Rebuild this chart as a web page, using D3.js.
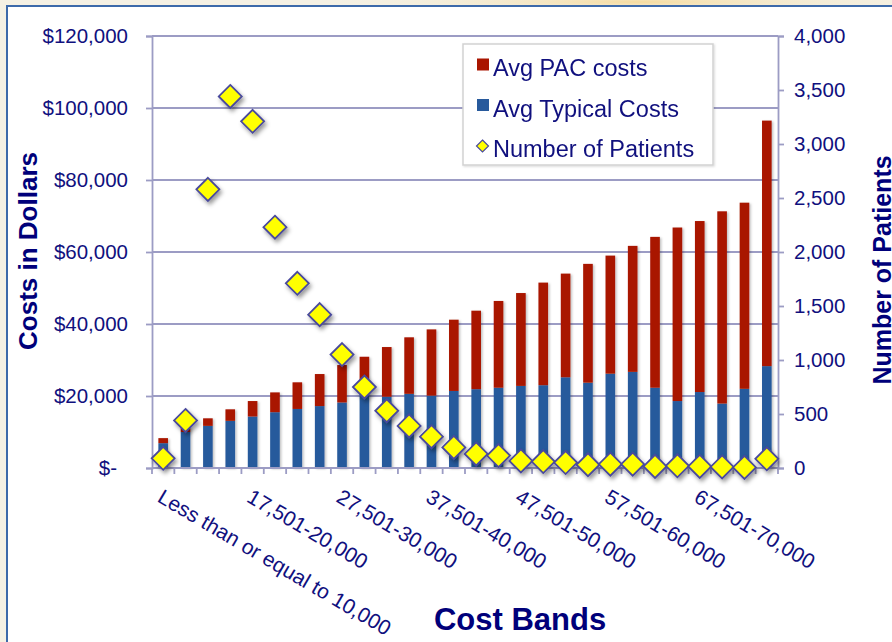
<!DOCTYPE html>
<html>
<head>
<meta charset="utf-8">
<script src="https://cdn.jsdelivr.net/npm/d3@7"></script>
<style>
  html, body { margin: 0; padding: 0; background: #f5f1e4; }
  svg { display: block; font-family: "Liberation Sans", Arial, Helvetica, sans-serif; }
</style>
</head>
<body>
<svg id="chart" width="892" height="642"></svg>
<script>
const categories = ["Less than or equal to 10,000","10,001-12,500","12,501-15,000","15,001-17,500","17,501-20,000","20,001-22,500","22,501-25,000","25,001-27,500","27,501-30,000","30,001-32,500","32,501-35,000","35,001-37,500","37,501-40,000","40,001-42,500","42,501-45,000","45,001-47,500","47,501-50,000","50,001-52,500","52,501-55,000","55,001-57,500","57,501-60,000","60,001-62,500","62,501-65,000","65,001-67,500","67,501-70,000","70,001-72,500","72,501-75,000","Greater than 75,000"];
const typicalCosts = [6900,10000,11700,13100,14300,15500,16400,17200,18200,21000,19800,20600,20100,21400,21900,22300,22800,23000,25200,23700,26200,26700,22300,18600,21100,17900,22000,28300];
const pacCosts = [1400,1500,2100,3200,4300,5500,7400,8900,10400,9900,13800,15700,18400,19800,21800,24100,25800,28500,28800,33000,32800,35000,41900,48200,47500,53400,51700,68200];
const patients = [90,440,2580,3440,3210,2230,1710,1420,1050,750,530,390,290,190,130,115,65,60,50,30,35,35,15,20,15,10,5,85];
const costTicks = [0,20000,40000,60000,80000,100000,120000];
const costTickLabels = ["$-","$20,000","$40,000","$60,000","$80,000","$100,000","$120,000"];
const patientTicks = [0,500,1000,1500,2000,2500,3000,3500,4000];
const shownLabelIdx = [0,4,8,12,16,20,24];
const seriesNames = ["Avg PAC costs","Avg Typical Costs","Number of Patients"];

const svg = d3.select("#chart");
const W = 892, H = 642;
const mLeft = 152, mRight = 778, mTop = 36, mBottom = 468;
const axisColor = "#9c9cc4";
const textColor = "#10107e";
const titleColor = "#00007a";
const red = "#a91500", blue = "#285a9c";

const defs = svg.append("defs");
const glow = defs.append("radialGradient").attr("id","glow").attr("cx","0.5").attr("cy","0.5").attr("r","0.5");
glow.append("stop").attr("offset","0%").attr("stop-color","#f6dca0");
glow.append("stop").attr("offset","100%").attr("stop-color","#f5f1e4").attr("stop-opacity",0);
const sh = defs.append("filter").attr("id","shadow").attr("x","-50%").attr("y","-50%").attr("width","200%").attr("height","200%");
sh.append("feDropShadow").attr("dx",2).attr("dy",3).attr("stdDeviation",2).attr("flood-color","#000").attr("flood-opacity",0.4);
const bsh = defs.append("filter").attr("id","bshadow").attr("x","-50%").attr("y","-10%").attr("width","200%").attr("height","120%");
bsh.append("feDropShadow").attr("dx",1.5).attr("dy",1).attr("stdDeviation",1).attr("flood-color","#000").attr("flood-opacity",0.25);
const lsh = defs.append("filter").attr("id","lshadow").attr("x","-10%").attr("y","-10%").attr("width","120%").attr("height","120%");
lsh.append("feDropShadow").attr("dx",1).attr("dy",1).attr("stdDeviation",1).attr("flood-color","#000").attr("flood-opacity",0.15);

// background
svg.append("rect").attr("width",W).attr("height",H).attr("fill","#f5f1e4");
svg.append("ellipse").attr("cx",640).attr("cy",2).attr("rx",330).attr("ry",14).attr("fill","url(#glow)");
svg.append("rect").attr("x",7).attr("y",6).attr("width",W+20).attr("height",H+20)
  .attr("fill","#fff").attr("stroke","#3d6aaa").attr("stroke-width",2);

const x = d3.scaleBand().domain(categories).range([mLeft,mRight]).paddingInner(0).paddingOuter(0);
const yL = d3.scaleLinear().domain([0,120000]).range([mBottom,mTop]);
const yR = d3.scaleLinear().domain([0,4000]).range([mBottom,mTop]);
const bw = x.bandwidth()*0.43;

// gridlines
svg.append("g").selectAll("line").data(costTicks.filter(d=>d>0)).join("line")
  .attr("x1",mLeft).attr("x2",mRight).attr("y1",d=>yL(d)).attr("y2",d=>yL(d))
  .attr("stroke",axisColor).attr("stroke-width",1.8);

// bars
const data = categories.map((c,i)=>({c, t:typicalCosts[i], p:pacCosts[i], n:patients[i]}));
const gb = svg.append("g").attr("filter","url(#bshadow)");
gb.selectAll("rect.t").data(data).join("rect").attr("class","t")
  .attr("x",d=>x(d.c)+(x.bandwidth()-bw)/2).attr("width",bw)
  .attr("y",d=>yL(d.t)).attr("height",d=>yL(0)-yL(d.t)).attr("fill",blue);
gb.selectAll("rect.p").data(data).join("rect").attr("class","p")
  .attr("x",d=>x(d.c)+(x.bandwidth()-bw)/2).attr("width",bw)
  .attr("y",d=>yL(d.t+d.p)).attr("height",d=>yL(d.t)-yL(d.t+d.p)).attr("fill",red);

// left axis
const axL = svg.append("g").attr("transform",`translate(${mLeft},0)`)
  .call(d3.axisLeft(yL).tickValues(costTicks).tickSize(6).tickPadding(18)
    .tickFormat((d,i)=>costTickLabels[i]));
axL.select(".domain").attr("stroke",axisColor).attr("stroke-width",1.8);
axL.selectAll(".tick line").attr("stroke",axisColor).attr("stroke-width",1.8);
axL.selectAll(".tick text").attr("fill",textColor).attr("font-size",20.5).attr("font-family",null)
  .attr("dx",d=>d===0?-11:0);

// right axis
const axR = svg.append("g").attr("transform",`translate(${mRight},0)`)
  .call(d3.axisRight(yR).tickValues(patientTicks).tickSize(6).tickPadding(10).tickFormat(d3.format(",")));
axR.select(".domain").attr("stroke",axisColor).attr("stroke-width",1.8);
axR.selectAll(".tick line").attr("stroke",axisColor).attr("stroke-width",1.8);
axR.selectAll(".tick text").attr("fill",textColor).attr("font-size",20.5).attr("font-family",null);

// bottom axis
svg.append("line").attr("x1",mLeft).attr("x2",mRight).attr("y1",mBottom).attr("y2",mBottom)
  .attr("stroke",axisColor).attr("stroke-width",1.8);
const bounds = categories.map(c=>x(c)).concat([x(categories[categories.length-1])+x.bandwidth()]);
svg.append("g").selectAll("line").data(bounds).join("line")
  .attr("x1",d=>d).attr("x2",d=>d).attr("y1",mBottom).attr("y2",mBottom+6)
  .attr("stroke",axisColor).attr("stroke-width",1.8);
svg.append("g").selectAll("text").data(shownLabelIdx).join("text")
  .attr("transform",i=>`translate(${x(categories[i])+x.bandwidth()/2-7},${mBottom+33}) rotate(30.5)`)
  .attr("fill",textColor).attr("font-size",21).text(i=>categories[i]);

// diamonds
svg.append("g").attr("filter","url(#shadow)").selectAll("path").data(data).join("path")
  .attr("transform",d=>`translate(${x(d.c)+x.bandwidth()/2},${yR(d.n)})`)
  .attr("d",()=>{const s=11.5;return `M0,${-s}L${s},0L0,${s}L${-s},0Z`;})
  .attr("fill","#ffff00").attr("stroke","#4a4a9c").attr("stroke-width",1.8);

// axis titles
svg.append("text").attr("transform","translate(37,251) rotate(-90)").attr("text-anchor","middle")
  .attr("font-size",26).attr("font-weight","bold").attr("fill",titleColor).text("Costs in Dollars");
svg.append("text").attr("transform","translate(891,270) rotate(-90)").attr("text-anchor","middle")
  .attr("font-size",25).attr("font-weight","bold").attr("fill",titleColor).text("Number of Patients");
svg.append("text").attr("x",520).attr("y",630).attr("text-anchor","middle")
  .attr("font-size",31).attr("font-weight","bold").attr("fill",titleColor).text("Cost Bands");

// legend
const lg = svg.append("g");
lg.append("rect").attr("x",463).attr("y",44).attr("width",250).attr("height",121)
  .attr("fill","#fff").attr("stroke","#d2d2d2").attr("stroke-width",1.5).attr("filter","url(#lshadow)");
const lColors = [red, blue];
seriesNames.forEach((name,i)=>{
  const by = 76 + i*40.5;
  if (i<2) {
    lg.append("rect").attr("x",477).attr("y",by-17.5).attr("width",12).attr("height",12).attr("fill",lColors[i]);
  } else {
    lg.append("path").attr("d",`M482.5,${by-17}L488.5,${by-11}L482.5,${by-5}L476.5,${by-11}Z`)
      .attr("fill","#ffff00").attr("stroke","#4a4a9c").attr("stroke-width",1.2);
  }
  lg.append("text").attr("x",493).attr("y",by).attr("font-size",23.5).attr("fill",textColor).text(name);
});
</script>
</body>
</html>
